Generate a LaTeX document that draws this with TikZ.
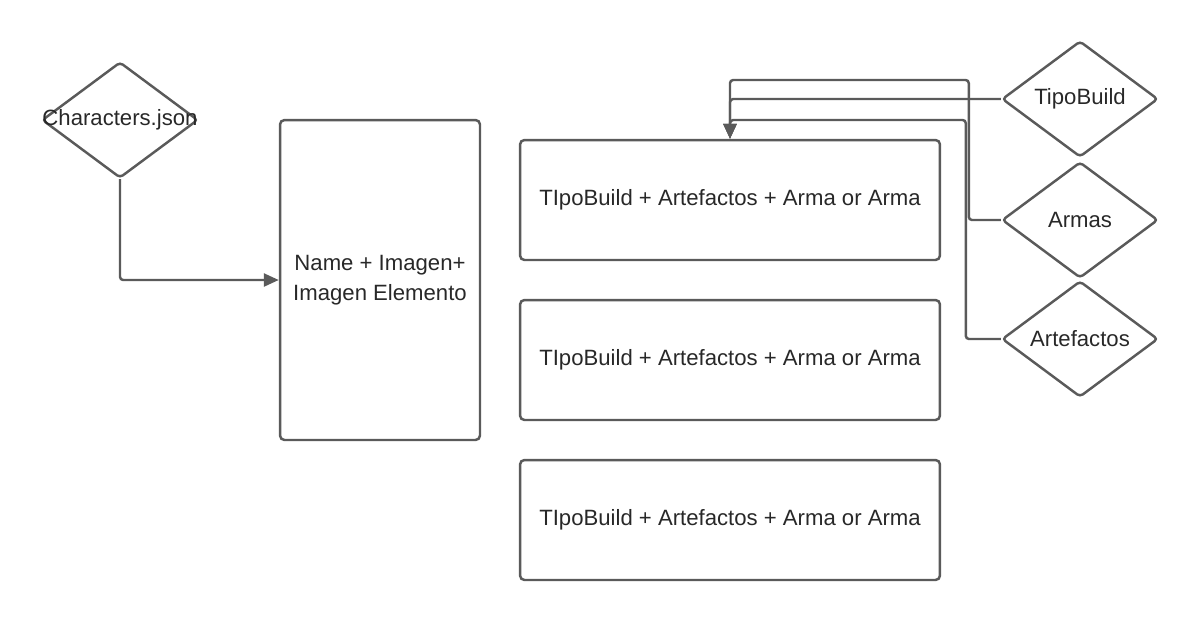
\documentclass[tikz,border=0pt]{standalone}
\usepackage{fontspec}
\setmainfont{Liberation Sans}
\usetikzlibrary{shapes.geometric,arrows.meta}
\definecolor{linegray}{HTML}{5A5A5A}
\definecolor{textgray}{HTML}{282828}

\begin{document}
\begin{tikzpicture}[x=0.02cm,y=-0.02cm,
		diam/.style={diamond,draw=linegray,line width=1.4pt,rounded corners=2pt,minimum width=3.12cm,minimum height=2.32cm,inner sep=0pt},
		buildbox/.style={rectangle,draw=linegray,line width=1.4pt,rounded corners=2.5pt,minimum width=8.4cm,minimum height=2.4cm,text=textgray},
		conn/.style={draw=linegray,line width=1.4pt,rounded corners=1.8pt,-{Triangle[width=0.26cm,length=0.3cm]}}]
		\useasboundingbox (0,0) rectangle (1200,620);
		\fontsize{12.6}{17}\selectfont
		
		%input
		\node[diam] (chars) at (120,120) {};
		\node[text=textgray] (charslbl) at (chars.center) {Characters.json};
		\node[buildbox,minimum width=4cm,minimum height=6.4cm,align=center] (info) at (380,280) {Name + Imagen+\\Imagen Elemento};
		
		%builds
		\node[buildbox] (build1) at (730,200) {TIpoBuild + Artefactos + Arma or Arma};
		\node[buildbox] (build2) at (730,360) {TIpoBuild + Artefactos + Arma or Arma};
		\node[buildbox] (build3) at (730,520) {TIpoBuild + Artefactos + Arma or Arma};
		
		%sources
		\node[diam,text=textgray] (tipo) at (1080,99) {TipoBuild};
		\node[diam,text=textgray] (armas) at (1080,220) {Armas};
		\node[diam,text=textgray] (artef) at (1080,339) {Artefactos};
		
		%connectors
		\draw[conn] (chars.south) |- (info.west);
		\draw[conn] (tipo.west) -| (build1.north);
		\draw[conn] (armas.west) -- ++(-32,0) -- ++(0,-140) -| (build1.north);
		\draw[conn] (artef.west) -- ++(-35,0) -- ++(0,-219) -| (build1.north);
\end{tikzpicture}
\end{document}
